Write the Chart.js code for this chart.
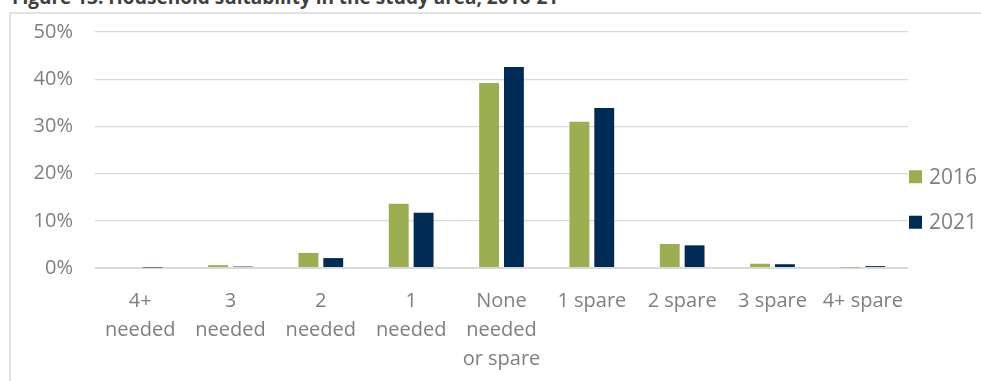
<!DOCTYPE html>
<html>
<head>
<meta charset="utf-8">
<script src="https://cdn.jsdelivr.net/npm/chart.js@4.4.1/dist/chart.umd.min.js"></script>
<style>
  html, body { margin: 0; padding: 0; background: #fff; overflow: hidden; }
  body { width: 981px; height: 381px; position: relative; font-family: 'Open Sans', sans-serif; }
  .fig-title {
    position: absolute; left: 12px; top: -13px;
    font-size: 19px; line-height: 20px; font-weight: 700; color: #404040; white-space: nowrap;
  }
  .frame {
    position: absolute; left: 9px; top: 12px; width: 975px; height: 380px;
    border-left: 2px solid #e2e2e2; border-top: 2px solid #e2e2e2; box-sizing: border-box;
  }
  .chart-box { position: absolute; left: 10px; top: -2px; width: 971px; height: 383px; }
</style>
</head>
<body>
<div class="fig-title">Figure 13: Household suitability in the study area, 2016-21</div>
<div class="frame"></div>
<div class="chart-box"><canvas id="suitChart"></canvas></div>
<script>
// Kategori kecocokan rumah tangga (label multi-baris)
const categories = [
  ['4+', 'needed'], ['3', 'needed'], ['2', 'needed'], ['1', 'needed'],
  ['None', 'needed', 'or spare'], '1 spare', '2 spare', '3 spare', '4+ spare'
];
const years = ['2016', '2021'];
const values2016 = [0.2, 0.6, 3.2, 13.6, 39.2, 31.0, 5.1, 0.9, 0.1];
const values2021 = [0.1, 0.3, 2.1, 11.7, 42.6, 33.9, 4.8, 0.8, 0.4];
const yTicks = [0, 10, 20, 30, 40, 50];

const seriesColors = ['#9CAE52', '#002B55'];
const textColor = '#7F7F7F';
const gridColor = '#D9D9D9';

// Legenda digambar sendiri di sisi kanan area chart
const sideLegend = {
  id: 'sideLegend',
  afterDraw(chart) {
    const ctx = chart.ctx;
    const x = chart.chartArea.right + 1;
    const mid = chart.height / 2 + 10;
    const gap = 45.5;
    ctx.save();
    ctx.font = '21px "Open Sans"';
    ctx.textBaseline = 'middle';
    chart.data.datasets.forEach((ds, i) => {
      const cy = mid + (i - (chart.data.datasets.length - 1) / 2) * gap;
      ctx.fillStyle = ds.backgroundColor;
      ctx.fillRect(x, cy - 6.5, 13, 13);
      ctx.fillStyle = textColor;
      ctx.fillText(ds.label, x + 20, cy + 1);
    });
    ctx.restore();
  }
};

document.addEventListener('DOMContentLoaded', function () {
  const ctx = document.getElementById('suitChart');
  new Chart(ctx, {
    type: 'bar',
    data: {
      labels: categories,
      datasets: [
        { label: years[0], data: values2016, backgroundColor: seriesColors[0] },
        { label: years[1], data: values2021, backgroundColor: seriesColors[1] }
      ]
    },
    options: {
      responsive: true,
      maintainAspectRatio: false,
      animation: false,
      layout: { padding: { top: 5, right: 73, left: 0, bottom: 0 } },
      datasets: { bar: { categoryPercentage: 0.55, barPercentage: 0.8 } },
      plugins: {
        legend: { display: false },
        tooltip: { enabled: false }
      },
      scales: {
        x: {
          grid: { display: false },
          border: { display: false },
          ticks: {
            color: textColor,
            font: { family: 'Open Sans', size: 20, lineHeight: 1.45 },
            maxRotation: 0,
            autoSkip: false,
            padding: 11
          },
          afterFit(scale) { scale.height = 113; }
        },
        y: {
          min: 0,
          max: 50,
          afterBuildTicks(scale) { scale.ticks = yTicks.map(v => ({ value: v })); },
          grid: {
            color: gridColor,
            lineWidth: c => (c.tick && c.tick.value === 0 ? 2 : 1.3),
            drawTicks: false
          },
          border: { display: false },
          ticks: {
            color: textColor,
            font: { family: 'Open Sans', size: 20 },
            padding: 22,
            callback: v => v + '%'
          },
          afterFit(scale) { scale.width = 85; }
        }
      }
    },
    plugins: [sideLegend]
  });
});
</script>
</body>
</html>
